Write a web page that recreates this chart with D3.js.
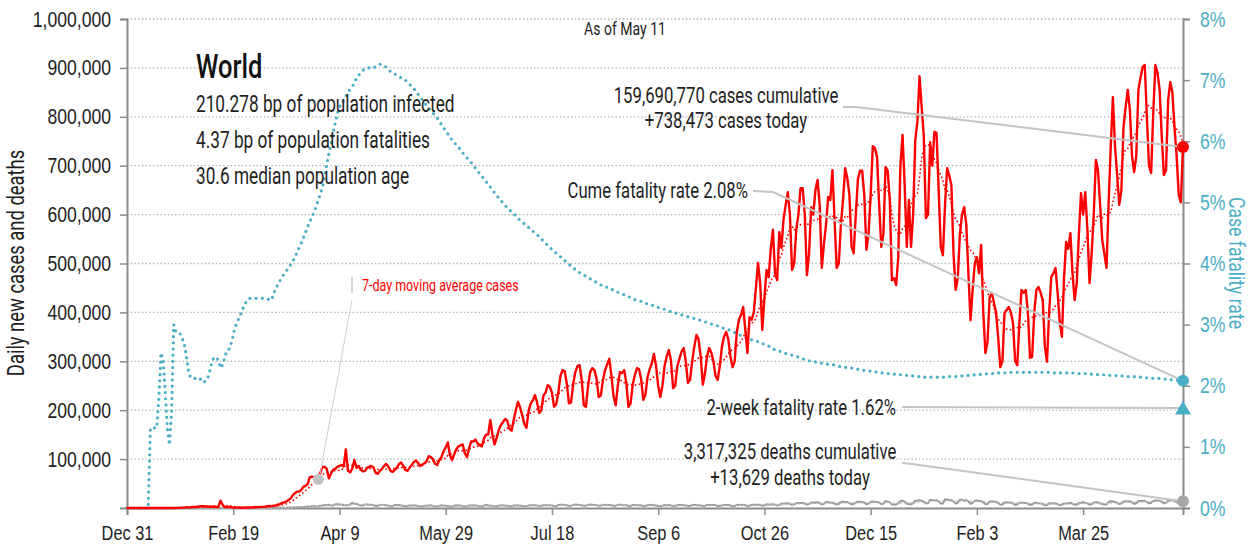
<!DOCTYPE html>
<html><head><meta charset="utf-8">
<script src="https://cdn.jsdelivr.net/npm/d3@7"></script>
<style>
body{margin:0;background:#fff;}
svg{display:block;font-family:Roboto,"Noto Sans",sans-serif;}
</style></head><body>
<svg id="chart" width="1251" height="545"></svg>
<script>
// ---------------- DATA ----------------
const startDate = "2019-12-31";          // first day of the series
const asOfLabel = "As of May 11";
const regionName = "World";
const statLines = ["210.278 bp of population infected","4.37 bp of population fatalities","30.6 median population age"];
const xTickDates = ["2019-12-31","2020-02-19","2020-04-09","2020-05-29","2020-07-18","2020-09-06","2020-10-26","2020-12-15","2021-02-03","2021-03-25"];
const xTickLabels = ["Dec 31","Feb 19","Apr 9","May 29","Jul 18","Sep 6","Oct 26","Dec 15","Feb 3","Mar 25"];
const yTicksLeft = [100000,200000,300000,400000,500000,600000,700000,800000,900000,1000000];
const yTicksRight = [0,1,2,3,4,5,6,7,8];
const summaryCases = ["159,690,770 cases cumulative","+738,473 cases today"];
const summaryCume = "Cume fatality rate 2.08%";
const summaryTwoWeek = "2-week fatality rate 1.62%";
const summaryDeaths = ["3,317,325 deaths cumulative","+13,629 deaths today"];
const maLabel = "7-day moving average cases";
const cumeFatalityPct = 2.08;
const twoWeekFatalityPct = 1.62;

// daily new cases, thousands (weeks Sun..Sat; first row starts Tue Dec 31)
const casesK = [
0,0,0,0,0,
0,0,0,0,0,0,0.04,
0,0,0,0,0.01,0.02,0.1,
0.08,0.15,0.15,0.1,0.26,0.3,0.7,
0.7,0.8,1.7,1.3,1.7,2.0,2.1,
2.6,3.2,3.9,3.7,3.2,3.4,2.6,
2.5,3.0,2.0,2.1,15.1,6.5,2.1,
2.0,1.9,1.7,0.7,0.9,0.7,1.0,
0.6,0.8,0.9,0.9,1.1,1.3,1.9,
1.6,1.9,2.4,2.3,2.7,3.8,4.2,
3.8,4.7,4.8,7.3,8.0,10.8,11.5,
13.3,16.2,19.8,26.0,30.5,33.4,33.8,
37.0,43.3,45.2,49.0,62.6,64.0,63.1,
62,65,72,84,84,80,61,
70,78,80,84,86,88,85,
120,76,73,80,98,82,86,
78,75,76,82,84,86,83,
72,70,76,80,86,90,85,
76,74,78,82,90,93,86,
78,76,82,88,94,97,92,
86,88,92,96,106,104,100,
90,88,98,104,116,124,134,
108,98,110,120,126,128,130,
112,104,122,136,136,140,132,
128,126,142,150,150,180,150,
130,144,160,170,176,182,178,
162,158,180,200,217,206,190,
172,164,198,214,220,231,216,
194,200,230,236,251,248,236,
207,212,236,270,282,280,254,
214,216,254,278,290,292,262,
210,207,250,278,286,282,264,
227,230,262,282,294,305,270,
228,210,250,278,276,282,256,
207,214,252,272,286,284,262,
221,232,268,284,296,315,290,
250,227,250,290,310,323,302,
245,250,290,305,320,327,300,
256,262,300,330,354,345,310,
252,275,310,327,318,300,270,
262,290,330,350,360,345,310,
288,300,360,385,395,411,365,
317,390,385,400,450,501,460,
364,430,487,472,530,569,480,
466,564,532,590,620,646,600,
487,500,570,600,654,654,600,
476,520,615,600,650,671,620,
491,540,580,636,630,691,590,
491,500,580,630,695,675,640,
535,521,600,673,690,690,640,
528,560,640,740,736,718,620,
534,560,697,690,630,466,470,
456,513,700,763,660,534,630,
534,600,753,790,883,820,760,
593,600,748,700,769,767,650,
534,517,620,695,680,660,520,
446,470,560,600,615,580,480,
384,446,500,513,480,538,400,
317,340,431,440,420,400,350,
288,300,399,405,411,400,378,
300,292,380,446,440,446,400,
307,309,400,446,452,440,425,
330,299,400,472,480,491,440,
380,350,470,544,530,562,480,
425,460,560,644,600,646,570,
460,520,600,712,690,620,548,
520,491,624,740,840,740,681,
620,650,779,820,855,814,720,
687,720,855,880,902,906,800,
700,685,808,906,890,855,760,
681,690,834,871,850,779,720,
640,625,738.473
];

// daily new deaths, thousands (same layout)
const deathsK = [
0,0,0,0,0,
0,0,0,0,0,0,0.001,
0,0,0,0,0,0,0,
0,0,0.003,0.008,0.009,0.016,0.015,
0.024,0.026,0.026,0.038,0.043,0.046,0.045,
0.057,0.064,0.066,0.073,0.073,0.086,0.089,
0.097,0.108,0.097,0.254,0.121,0.143,0.142,
0.105,0.098,0.136,0.114,0.118,0.109,0.097,
0.15,0.071,0.052,0.029,0.044,0.037,0.058,
0.067,0.072,0.084,0.089,0.105,0.1,0.105,
0.2,0.23,0.28,0.36,0.35,0.42,0.42,
0.75,0.85,0.95,1.1,1.3,1.6,1.7,
1.8,2.0,2.4,2.9,2.8,3.5,3.6,
3.2,3.8,4.8,5.0,6.2,5.9,6.7,
5.0,5.2,7.5,7.5,7.3,7.2,6.3,
5.8,5.5,7.6,10.5,8.2,8.5,6.5,
5.0,5.0,7.1,7.2,6.5,6.5,5.6,
4.0,4.2,6.4,6.6,5.9,5.5,4.9,
3.5,3.7,6.0,6.2,5.5,5.4,4.2,
3.5,3.5,5.3,5.2,5.3,5.0,4.3,
3.3,3.1,4.8,4.5,5.2,5.4,4.3,
3.0,3.0,4.4,5.5,5.0,4.8,4.3,
3.0,3.2,4.6,5.4,5.2,5.0,4.3,
3.3,3.4,5.0,5.3,5.4,5.1,4.5,
3.5,3.4,4.7,6.7,5.2,5.2,4.3,
3.7,3.6,5.1,5.1,5.7,5.0,4.7,
3.5,3.7,5.1,5.2,5.2,5.0,4.3,
3.6,3.9,5.2,5.6,5.5,5.6,5.0,
3.9,4.3,5.9,5.6,5.8,5.8,5.2,
4.0,4.3,6.4,6.6,6.5,6.3,5.6,
4.2,4.6,6.4,6.9,6.7,6.1,5.5,
4.4,4.7,6.4,6.9,6.8,6.4,5.5,
4.6,4.6,6.3,6.4,6.3,6.0,5.5,
4.3,4.4,6.4,6.5,6.0,5.8,5.6,
4.0,4.2,6.1,6.2,5.8,5.6,5.3,
4.1,4.0,5.8,6.5,5.9,5.6,5.1,
4.2,3.8,4.7,6.2,5.8,6.0,5.1,
4.1,4.2,5.8,6.0,5.9,5.6,5.2,
4.2,4.2,5.8,6.6,5.8,5.7,5.3,
4.0,4.1,6.3,6.2,6.1,6.2,5.5,
3.9,4.1,5.4,5.9,6.2,5.9,5.3,
3.8,4.2,6.0,6.6,6.0,6.2,5.7,
4.2,4.7,6.5,6.8,6.4,6.5,6.0,
4.6,5.5,7.6,7.4,7.3,7.6,6.7,
5.2,5.8,8.8,9.0,9.3,9.5,8.3,
6.3,7.4,9.8,10.1,10.0,10.7,9.0,
6.9,8.4,10.8,11.3,11.0,12.0,9.8,
7.2,8.4,12.1,12.3,10.7,10.5,9.1,
7.2,8.6,12.2,12.6,12.1,12.2,10.0,
7.8,8.3,11.4,12.8,12.5,12.4,11.0,
7.7,8.9,12.5,13.4,12.8,12.5,11.0,
7.8,9.0,14.0,13.1,11.5,7.2,7.4,
7.4,9.2,14.4,15.0,13.0,8.5,8.1,
7.8,9.4,14.8,14.9,15.8,14.8,12.8,
9.2,10.0,16.4,16.5,15.3,15.9,13.5,
9.4,9.3,17.7,17.5,16.4,15.8,13.5,
8.9,11.0,17.0,17.0,15.0,16.0,13.1,
8.7,10.5,15.0,15.3,14.3,14.1,11.6,
7.9,8.3,13.0,13.9,12.6,12.7,10.3,
6.8,7.2,11.4,11.8,11.2,11.3,9.3,
6.4,7.2,10.6,10.9,10.5,10.4,8.9,
6.2,7.0,10.6,10.3,9.5,9.4,8.1,
5.5,6.2,9.4,9.0,9.8,9.4,7.9,
5.9,6.4,9.0,9.4,9.5,10.6,8.7,
6.5,6.7,10.4,10.8,12.3,10.5,9.4,
7.1,7.5,11.2,11.7,11.9,9.2,8.4,
6.6,7.4,12.0,14.0,13.2,12.5,10.6,
8.1,9.0,13.6,14.0,13.5,13.8,11.8,
8.5,9.6,14.2,14.5,14.8,14.4,12.5,
9.2,10.5,14.4,15.5,15.1,14.9,12.4,
9.4,10.8,15.0,15.7,15.6,14.1,12.3,
9.4,10.1,13.629
];

// case fatality rate, percent (10 values per row, from Dec 31)
const cfrPct = [
0,0,0,0,0,0,0,0,0,0,
0,1.31,1.31,1.31,1.31,1.8,2.54,2.42,1.9,1.3,
1.03,1.6,3.0,2.88,2.88,2.85,2.78,2.67,2.48,2.23,
2.13,2.12,2.12,2.12,2.13,2.09,2.05,2.08,2.12,2.25,
2.39,2.47,2.46,2.42,2.29,2.34,2.46,2.58,2.6,2.69,
2.83,2.97,3.05,3.13,3.21,3.3,3.37,3.42,3.43,3.43,
3.43,3.43,3.43,3.43,3.43,3.42,3.42,3.41,3.4,3.5,
3.6,3.65,3.72,3.78,3.83,3.88,3.92,3.98,4.03,4.1,
4.18,4.26,4.33,4.42,4.51,4.6,4.68,4.76,4.84,4.93,
5.03,5.14,5.25,5.43,5.62,5.8,5.96,6.13,6.3,6.46,
6.56,6.62,6.67,6.74,6.8,6.85,6.89,6.96,7.03,7.08,
7.12,7.16,7.19,7.2,7.2,7.19,7.2,7.22,7.24,7.26,
7.26,7.24,7.21,7.18,7.14,7.12,7.1,7.08,7.06,7.04,
7.03,7.0,6.97,6.93,6.9,6.86,6.82,6.77,6.72,6.68,
6.63,6.59,6.54,6.5,6.46,6.43,6.38,6.33,6.27,6.22,
6.17,6.12,6.07,6.02,5.98,5.94,5.9,5.86,5.81,5.77,
5.73,5.69,5.65,5.6,5.56,5.52,5.47,5.43,5.38,5.34,
5.29,5.25,5.2,5.16,5.11,5.07,5.03,4.99,4.95,4.91,
4.88,4.84,4.81,4.78,4.74,4.71,4.68,4.65,4.62,4.59,
4.56,4.53,4.5,4.47,4.44,4.4,4.37,4.33,4.3,4.26,
4.23,4.2,4.17,4.14,4.11,4.08,4.05,4.02,3.99,3.96,
3.93,3.9,3.87,3.85,3.83,3.81,3.79,3.77,3.75,3.73,
3.71,3.69,3.67,3.65,3.63,3.62,3.61,3.59,3.58,3.56,
3.55,3.53,3.52,3.5,3.49,3.47,3.46,3.44,3.43,3.41,
3.4,3.39,3.38,3.37,3.35,3.34,3.33,3.32,3.31,3.3,
3.28,3.27,3.26,3.25,3.24,3.23,3.21,3.2,3.19,3.18,
3.17,3.16,3.15,3.14,3.13,3.12,3.11,3.1,3.09,3.08,
3.07,3.06,3.05,3.03,3.02,3.01,3.0,2.99,2.98,2.97,
2.95,2.94,2.93,2.92,2.9,2.88,2.87,2.85,2.84,2.82,
2.81,2.79,2.78,2.76,2.75,2.74,2.73,2.72,2.7,2.69,
2.68,2.66,2.65,2.63,2.6,2.59,2.58,2.57,2.55,2.54,
2.53,2.52,2.51,2.5,2.49,2.48,2.47,2.46,2.44,2.43,
2.42,2.41,2.4,2.4,2.39,2.38,2.38,2.37,2.36,2.36,
2.35,2.35,2.34,2.34,2.33,2.32,2.31,2.31,2.3,2.3,
2.29,2.29,2.28,2.28,2.27,2.26,2.26,2.25,2.25,2.24,
2.24,2.23,2.23,2.22,2.22,2.21,2.21,2.2,2.2,2.2,
2.19,2.19,2.18,2.18,2.18,2.17,2.17,2.17,2.16,2.16,
2.16,2.15,2.15,2.15,2.15,2.14,2.14,2.14,2.14,2.14,
2.14,2.14,2.14,2.14,2.14,2.14,2.14,2.15,2.15,2.15,
2.15,2.15,2.16,2.16,2.16,2.16,2.17,2.17,2.17,2.18,
2.18,2.18,2.19,2.19,2.19,2.2,2.2,2.2,2.2,2.21,
2.21,2.21,2.21,2.21,2.22,2.22,2.22,2.22,2.22,2.22,
2.22,2.22,2.22,2.22,2.22,2.22,2.22,2.22,2.22,2.22,
2.22,2.22,2.22,2.22,2.22,2.22,2.21,2.21,2.21,2.21,
2.21,2.21,2.21,2.21,2.21,2.21,2.2,2.2,2.2,2.2,
2.2,2.2,2.19,2.19,2.19,2.19,2.19,2.18,2.18,2.18,
2.18,2.18,2.17,2.17,2.17,2.17,2.16,2.16,2.16,2.16,
2.15,2.15,2.15,2.15,2.15,2.14,2.14,2.14,2.14,2.13,
2.13,2.13,2.13,2.12,2.12,2.12,2.12,2.11,2.11,2.11,
2.1,2.1,2.1,2.09,2.09,2.09,2.08,2.08
];
const maPointDay = 90; // day index where the moving-average callout dot sits

// ---------------- DRAW ----------------
const RED = "#ff0000", TEAL = "#4aaec6", GRAY = "#9a9a9a", LEADER = "#c4c4c4", TEXT = "#1e1e1e";
const svg = d3.select("#chart");
const parse = d3.utcParse("%Y-%m-%d");
const t0 = parse(startDate);
const n = casesK.length;
const dates = d3.range(n).map(i => d3.utcDay.offset(t0, i));
const cases = casesK.map(v => v * 1000);
const deaths = deathsK.map(v => v * 1000);
function movingAvg(arr) {
  return arr.map((_, i) => d3.mean(arr.slice(Math.max(0, i - 6), i + 1)));
}
const casesMA = movingAvg(cases);
const deathsMA = movingAvg(deaths);

const L = 127, R = 1183, T = 19, B = 508;
const x = d3.scaleUtc().domain([t0, dates[n - 1]]).range([L, R]);
const y = d3.scaleLinear().domain([0, 1000000]).range([B, T]);
const yR = d3.scaleLinear().domain([0, 8]).range([B, T]);

// condensed-looking text: draw at (x,y) and squeeze horizontally
function txt(parent, tx, ty, str, fs, sx, anchor, fill, rot) {
  return parent.append("text")
    .attr("transform", `translate(${tx},${ty})${rot ? ` rotate(${rot})` : ""} scale(${sx},1)`)
    .attr("text-anchor", anchor || "start").attr("font-size", fs)
    .attr("fill", fill || TEXT).text(str);
}
function condenseAxis(g, sx, fs, fill) {
  g.selectAll(".tick text").each(function () {
    const t = d3.select(this);
    const xx = +t.attr("x") || 0;
    t.attr("x", xx / sx).attr("transform", `scale(${sx},1)`)
      .attr("font-size", fs).attr("fill", fill).attr("font-family", null);
  });
}

// gridlines
svg.append("g").selectAll("line").data(yTicksLeft).join("line")
  .attr("x1", L).attr("x2", R).attr("y1", d => y(d)).attr("y2", d => y(d))
  .attr("stroke", "#b5b5b5").attr("stroke-width", 1.3).attr("stroke-dasharray", "1.5,2.2");

// axes
const axL = svg.append("g").attr("transform", `translate(${L},0)`)
  .call(d3.axisLeft(y).tickValues(yTicksLeft).tickSize(7).tickPadding(9).tickFormat(d3.format(",")));
const axR = svg.append("g").attr("transform", `translate(${R},0)`)
  .call(d3.axisRight(yR).tickValues(yTicksRight).tickSize(7).tickPadding(10).tickFormat(d => d + "%"));
const axB = svg.append("g").attr("transform", `translate(0,${B})`)
  .call(d3.axisBottom(x).tickValues(xTickDates.map(parse)).tickSize(7).tickPadding(10)
    .tickFormat((d, i) => xTickLabels[i]));
[axL, axR, axB].forEach(g => {
  g.select(".domain").attr("stroke", "#8c8c8c").attr("stroke-width", 2);
  g.selectAll(".tick line").attr("stroke", "#8c8c8c").attr("stroke-width", 1.5);
});
condenseAxis(axL, 0.8, 22, TEXT);
condenseAxis(axB, 0.78, 21, TEXT);
condenseAxis(axR, 0.8, 22, TEAL);

// axis titles
txt(svg, 24, 263, "Daily new cases and deaths", 23, 0.8, "middle", TEXT, -90);
txt(svg, 1229, 263, "Case fatality rate", 22, 0.8, "middle", TEAL, 90);

// series
const lineL = d3.line().x((d, i) => x(dates[i])).y(d => y(d));
const lineR = d3.line().x((d, i) => x(dates[i])).y(d => yR(d));

svg.append("path").datum(deaths).attr("d", lineL).attr("fill", "none")
  .attr("stroke", GRAY).attr("stroke-width", 2);
svg.append("path").datum(deathsMA).attr("d", lineL).attr("fill", "none")
  .attr("stroke", "#bdbdbd").attr("stroke-width", 1.5).attr("stroke-dasharray", "1.5,2");

svg.append("path").datum(cfrPct).attr("d", lineR).attr("fill", "none")
  .attr("stroke", TEAL).attr("stroke-width", 3.2).attr("stroke-linecap", "round").attr("stroke-dasharray", "0,6.2");

svg.append("path").datum(cases).attr("d", lineL).attr("fill", "none")
  .attr("stroke", RED).attr("stroke-width", 2.4).attr("stroke-linejoin", "round");
svg.append("path").datum(casesMA).attr("d", lineL).attr("fill", "none")
  .attr("stroke", RED).attr("stroke-width", 1.8).attr("stroke-linecap", "round").attr("stroke-dasharray", "0,4");

// text block
txt(svg, 196, 78, regionName, 34, 0.75, "start", "#111").attr("font-weight", 500);
statLines.forEach((s, i) => txt(svg, 196, 112 + i * 36, s, 23, 0.75));
txt(svg, 625, 35, asOfLabel, 18, 0.78, "middle");

// end markers
const lastX = x(dates[n - 1]);
const lastCases = cases[n - 1], lastDeaths = deaths[n - 1];

// leader lines
function leader(pts, w) {
  svg.append("path").attr("d", d3.line()(pts)).attr("fill", "none")
    .attr("stroke", LEADER).attr("stroke-width", w || 2);
}
leader([[843, 107], [856, 107], [lastX, y(lastCases)]]);
leader([[753, 191], [773, 192], [lastX, yR(cumeFatalityPct)]]);
leader([[902, 407], [lastX, yR(twoWeekFatalityPct) - 1]]);
leader([[902, 463], [912, 464], [lastX, y(lastDeaths)]]);

summaryCases.forEach((s, i) => txt(svg, 726, 103 + i * 25, s, 22, 0.76, "middle"));
txt(svg, 748, 198, summaryCume, 22, 0.76, "end");
txt(svg, 896, 415, summaryTwoWeek, 22, 0.76, "end");
summaryDeaths.forEach((s, i) => txt(svg, 790, 459 + i * 26, s, 22, 0.76, "middle"));

svg.append("circle").attr("cx", lastX).attr("cy", y(lastCases)).attr("r", 6).attr("fill", RED);
svg.append("circle").attr("cx", lastX).attr("cy", yR(cumeFatalityPct)).attr("r", 6).attr("fill", TEAL);
svg.append("path").attr("d", d3.symbol(d3.symbolTriangle, 110)())
  .attr("transform", `translate(${lastX},${yR(twoWeekFatalityPct) + 1})`).attr("fill", TEAL);
svg.append("circle").attr("cx", lastX).attr("cy", y(lastDeaths)).attr("r", 6).attr("fill", "#a8a8a8");

// moving-average callout
const mpx = x(dates[maPointDay]), mpy = y(casesMA[maPointDay]);
svg.append("path").attr("d", d3.line()([[mpx + 2, mpy - 6], [352, 300]])).attr("stroke", "#cfcfcf").attr("stroke-width", 1);
svg.append("line").attr("x1", 352).attr("x2", 352).attr("y1", 277).attr("y2", 293).attr("stroke", "#d6d6d6").attr("stroke-width", 2);
svg.append("circle").attr("cx", mpx).attr("cy", mpy).attr("r", 5.5).attr("fill", "#c2c2c2");
txt(svg, 362, 291, maLabel, 16, 0.78, "start", RED);
</script>
</body></html>
